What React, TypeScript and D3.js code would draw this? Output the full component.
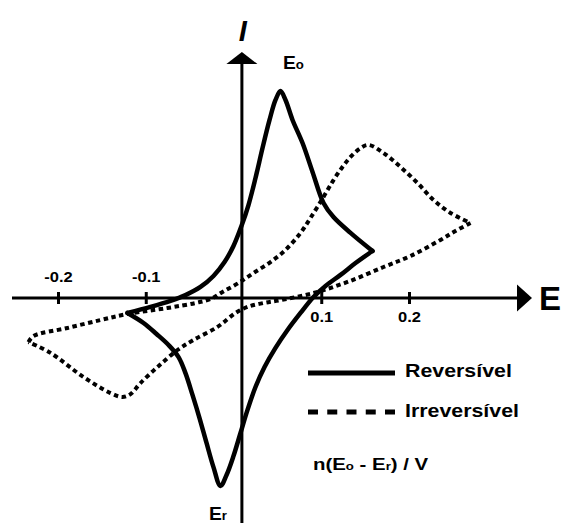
import React from 'react';
import * as d3 from 'd3';

const W = 563;
const H = 523;

// Potential-axis ticks
const tickValues = [-0.2, -0.1, 0.1, 0.2];
const tickLabels = ['-0.2', '-0.1', '0.1', '0.2'];
const tickLabelAbove = [true, true, false, false];

type Pt = [number, number]; // [E (V), I (arb. units)]

// Reversible voltammogram: forward (anodic) sweep, then reverse (cathodic) sweep
const reversibleForward: Pt[] = [
  [-0.1214, -0.072], [-0.0952, -0.043], [-0.0724, -0.014], [-0.0553, 0.014],
  [-0.0382, 0.053], [-0.0234, 0.106], [-0.0108, 0.173], [-0.0006, 0.25],
  [0.0085, 0.346], [0.0165, 0.447], [0.0245, 0.577], [0.0325, 0.721],
  [0.0405, 0.856], [0.0473, 0.952], [0.053, 0.995], [0.0587, 0.952],
  [0.0667, 0.856], [0.0781, 0.745], [0.0895, 0.606], [0.102, 0.457],
  [0.1134, 0.389], [0.1328, 0.313], [0.1578, 0.226],
];
const reversibleReverse: Pt[] = [
  [0.1578, 0.226], [0.1385, 0.168], [0.1214, 0.111], [0.1043, 0.058],
  [0.0906, 0.005], [0.0758, -0.072], [0.061, -0.154], [0.0473, -0.24],
  [0.0348, -0.332], [0.0245, -0.428], [0.0154, -0.538], [0.0074, -0.649],
  [-0.0006, -0.76], [-0.0085, -0.851], [-0.0154, -0.904], [-0.0234, -0.813],
  [-0.0313, -0.697], [-0.0393, -0.577], [-0.0473, -0.466], [-0.0553, -0.361],
  [-0.0632, -0.284], [-0.0746, -0.226], [-0.0883, -0.173], [-0.1031, -0.12],
  [-0.1214, -0.072],
];

// Irreversible voltammogram
const irreversibleForward: Pt[] = [
  [-0.2342, -0.212], [-0.2285, -0.183], [-0.1897, -0.144], [-0.1521, -0.106],
  [-0.1214, -0.077], [-0.0758, -0.048], [-0.0439, -0.024], [-0.0268, -0.005],
  [-0.0131, 0.029], [0.0051, 0.072], [0.0222, 0.12], [0.0416, 0.173],
  [0.0587, 0.231], [0.0758, 0.313], [0.0872, 0.385], [0.102, 0.486],
  [0.1134, 0.567], [0.1236, 0.63], [0.1328, 0.678], [0.1442, 0.721],
  [0.1533, 0.736], [0.1704, 0.697], [0.1897, 0.63], [0.2091, 0.553],
  [0.2274, 0.471], [0.2467, 0.409], [0.2695, 0.361],
];
const irreversibleReverse: Pt[] = [
  [0.2695, 0.361], [0.2524, 0.322], [0.2353, 0.279], [0.2011, 0.202],
  [0.1704, 0.149], [0.1293, 0.077], [0.0906, 0.024], [0.053, -0.01],
  [0.0336, -0.024], [0.0154, -0.043], [0.0017, -0.072], [-0.0188, -0.139],
  [-0.0462, -0.202], [-0.0644, -0.25], [-0.0872, -0.332], [-0.1066, -0.409],
  [-0.1179, -0.462], [-0.1271, -0.476], [-0.1407, -0.457], [-0.1715, -0.38],
  [-0.2091, -0.264], [-0.2342, -0.212],
];

const legendLabels = ['Reversível', 'Irreversível'];

const FONT = "'Liberation Sans', Arial, Helvetica, sans-serif";

export default function App() {
  const x = d3.scaleLinear().domain([-0.2, 0.2]).range([58.5, 409.5]);
  const y = d3.scaleLinear().domain([-1, 1]).range([506, 90]);

  const line = d3
    .line<Pt>()
    .x((d) => x(d[0]))
    .y((d) => y(d[1]))
    .curve(d3.curveCatmullRom.alpha(0.5));

  const axisY = y(0);
  const axisX = x(0.009);

  const hx0 = 12;
  const hArrowBase = 517;
  const hArrowTip = 532;
  const vTop = 64;
  const vTip = 52;

  const curveStroke = 4.5;
  const dash = '4.5 3.5';

  return (
    <svg
      width={W}
      height={H}
      style={{ position: 'absolute', left: 0, top: 0, background: '#fff' }}
      fontFamily={FONT}
    >
      <rect x={0} y={0} width={W} height={H} fill="#fff" />

      {/* axes */}
      <line x1={hx0} x2={hArrowBase} y1={axisY} y2={axisY} stroke="#000" strokeWidth={3} />
      <polygon
        points={`${hArrowBase},${axisY - 13.5} ${hArrowTip},${axisY} ${hArrowBase},${axisY + 13.5}`}
        fill="#000"
      />
      <line x1={axisX} x2={axisX} y1={H + 5} y2={vTop} stroke="#000" strokeWidth={3} />
      <polygon
        points={`${axisX - 15.5},${vTop} ${axisX},${vTip} ${axisX + 15.5},${vTop}`}
        fill="#000"
      />

      {/* ticks */}
      {tickValues.map((v, i) => (
        <g key={v}>
          <line x1={x(v)} x2={x(v)} y1={axisY - 6} y2={axisY + 6} stroke="#000" strokeWidth={3} />
          <text
            transform={`translate(${x(v)},${tickLabelAbove[i] ? axisY - 16 : axisY + 24}) scale(1.18,1)`}
            textAnchor="middle"
            fontSize={14}
            fontWeight="bold"
          >
            {tickLabels[i]}
          </text>
        </g>
      ))}

      {/* axis titles */}
      <text x={539} y={310} fontSize={33} fontWeight="bold">E</text>
      <text x={axisX + 1} y={41} fontSize={29} fontWeight="bold" fontStyle="italic" textAnchor="middle">
        I
      </text>

      {/* curves */}
      <path d={line(reversibleForward) ?? ''} fill="none" stroke="#000" strokeWidth={curveStroke} strokeLinejoin="round" strokeLinecap="round" />
      <path d={line(reversibleReverse) ?? ''} fill="none" stroke="#000" strokeWidth={curveStroke} strokeLinejoin="round" strokeLinecap="round" />
      <path d={line(irreversibleForward) ?? ''} fill="none" stroke="#000" strokeWidth={4} strokeDasharray={dash} />
      <path d={line(irreversibleReverse) ?? ''} fill="none" stroke="#000" strokeWidth={4} strokeDasharray={dash} />

      {/* peak labels */}
      <text transform="translate(283,69) scale(1.1,1)" fontSize={17.5} fontWeight="bold">
        E<tspan fontSize={12}>o</tspan>
      </text>
      <text transform="translate(209,520) scale(1.1,1)" fontSize={17.5} fontWeight="bold">
        E<tspan fontSize={12}>r</tspan>
      </text>

      {/* legend */}
      <line x1={308} x2={395} y1={373} y2={373} stroke="#000" strokeWidth={5} />
      <line x1={308} x2={395} y1={412} y2={412} stroke="#000" strokeWidth={5} strokeDasharray="10 9.25" />
      <text transform="translate(405,377) scale(1.155,1)" fontSize={18.5} fontWeight="bold">
        {legendLabels[0]}
      </text>
      <text transform="translate(405,417) scale(1.155,1)" fontSize={18.5} fontWeight="bold">
        {legendLabels[1]}
      </text>
      <text transform="translate(313,470) scale(1.2,1)" fontSize={17} fontWeight="bold">
        n(E<tspan fontSize={11}>o</tspan> - E<tspan fontSize={11}>r</tspan>) / V
      </text>
    </svg>
  );
}
